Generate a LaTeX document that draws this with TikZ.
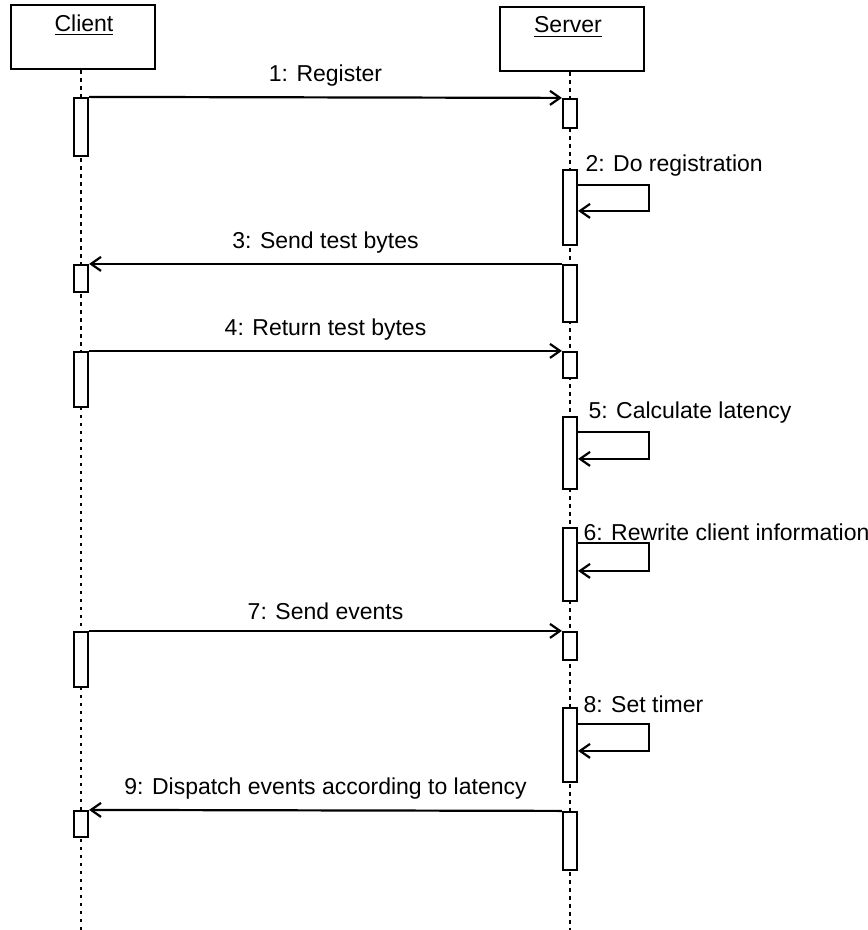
\documentclass[tikz,border=0pt]{standalone}
\usepackage{fontspec}
\setmainfont{Liberation Sans}
\usetikzlibrary{arrows.meta,positioning}

\begin{document}
\begin{tikzpicture}[x=0.5pt,y=-0.5pt,
  font=\fontsize{11.5}{13}\selectfont,
  obj/.style={draw,line width=1pt,minimum width=72pt,minimum height=32pt,inner sep=0pt},
  act/.style={draw,fill=white,line width=1.1pt,minimum width=7pt,inner sep=0pt},
  life/.style={line width=1.2pt,dash pattern=on 1.8pt off 2.2pt},
  msg/.style={-{Straight Barb[length=5pt,width=7pt]},line width=1.1pt},
  lbl/.style={above=4pt,inner sep=1pt},
  self/.style={anchor=west,inner sep=1pt}]
\useasboundingbox (0,0) rectangle (867,930);
% objects
\node[obj] (client) at (82.5,37.5) {};
\node[obj] (server) at (571.5,39) {};
\node (clientName) at (84,25) {\underline{Client}};
\node (serverName) at (568,27) {\underline{Server}};
% lifelines
\coordinate (clientEnd) at (81,930);
\coordinate (serverEnd) at (570,930);
\draw[life] (client.south -| clientEnd) -- (clientEnd);
\draw[life] (server.south -| serverEnd) -- (serverEnd);
% activations
\node[act,minimum height=29pt] (c1) at (81,127) {};
\node[act,minimum height=14.5pt] (s1) at (570,113.5) {};
\node[act,minimum height=37.5pt] (s2) at (570,207.5) {};
\node[act,minimum height=28.5pt] (s3) at (570,293.5) {};
\node[act,minimum height=13.5pt] (c3) at (81,278.5) {};
\node[act,minimum height=27.5pt] (c4) at (81,379.5) {};
\node[act,minimum height=13pt] (s4) at (570,365) {};
\node[act,minimum height=36pt] (s5) at (570,453) {};
\node[act,minimum height=36.5pt] (s6) at (570,564.5) {};
\node[act,minimum height=27.5pt] (c7) at (81,659.5) {};
\node[act,minimum height=14pt] (s7) at (570,646) {};
\node[act,minimum height=37pt] (s8) at (570,745) {};
\node[act,minimum height=29pt] (s9) at (570,841) {};
\node[act,minimum height=13pt] (c9) at (81,824) {};
% messages
\draw[msg] (c1.north east) -- node[lbl]{1: Register} (s1.north west);
\draw[msg] ([yshift=-8pt]s2.north east) -- ++(71,0) -- ++(0,26) -- ++(-71,0);
\node[self] (l2) at ([xshift=2.5pt,yshift=1.5pt]s2.north east) {2: Do registration};
\draw[msg] (s3.north west) -- node[lbl]{3: Send test bytes} (c3.north east);
\draw[msg] (c4.north east) -- node[lbl]{4: Return test bytes} (s4.north west);
\draw[msg] ([yshift=-8pt]s5.north east) -- ++(71,0) -- ++(0,27) -- ++(-71,0);
\node[self] (l5) at ([xshift=4pt,yshift=1.5pt]s5.north east) {5: Calculate latency};
\draw[msg] ([yshift=-8pt]s6.north east) -- ++(71,0) -- ++(0,28) -- ++(-71,0);
\node[self] (l6) at ([xshift=1.5pt,yshift=-2.5pt]s6.north east) {6: Rewrite client information};
\draw[msg] (c7.north east) -- node[lbl]{7: Send events} (s7.north west);
\draw[msg] ([yshift=-8.5pt]s8.north east) -- ++(71,0) -- ++(0,27) -- ++(-71,0);
\node[self] (l8) at ([xshift=1.5pt,yshift=1.5pt]s8.north east) {8: Set timer};
\draw[msg] (s9.north west) -- node[lbl]{9: Dispatch events according to latency} (c9.north east);
\end{tikzpicture}
\end{document}
